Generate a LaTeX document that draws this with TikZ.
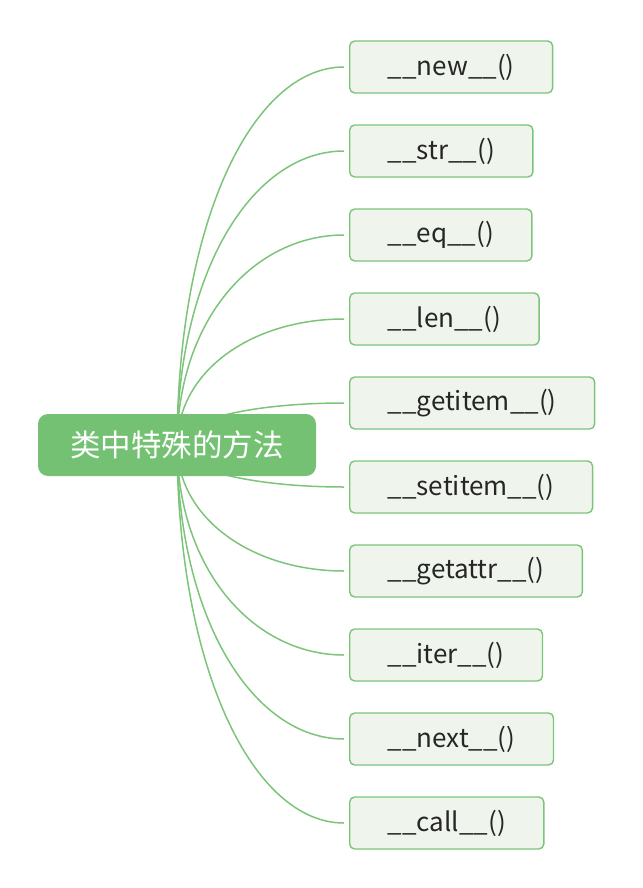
\documentclass[tikz,border=0pt]{standalone}
\usepackage{fontspec}
\setmainfont{Noto Sans CJK SC}
\usepackage{xcolor}
\usetikzlibrary{backgrounds}

\definecolor{mapgreen}{HTML}{74C174}
\definecolor{leafgreen}{HTML}{7CC47A}
\definecolor{leaffill}{HTML}{EFF5EC}
\definecolor{leaftext}{HTML}{262626}

\begin{document}
\begin{tikzpicture}[
  x=1pt, y=-1pt,
  rootbox/.style={
    fill=mapgreen,
    rounded corners=10pt,
    text=white,
    font=\fontsize{30.5}{33}\selectfont,
    minimum width=278pt,
    minimum height=62pt
  },
  leafbox/.style={
    draw=leafgreen,
    fill=leaffill,
    line width=1.4pt,
    rounded corners=5pt,
    text=leaftext,
    font=\fontsize{26}{29}\selectfont,
    inner xsep=38pt,
    minimum height=52pt,
    anchor=west
  },
  link/.style={draw=leafgreen, line width=1.5pt}
]
\useasboundingbox (0,0) rectangle (642,888);

% root
\node[rootbox] (root) at (177,445) {类中特殊的方法};

% leaves
\foreach \name/\txt/\y in {
    new/new/67, str/str/151, eq/eq/235, len/len/319,
    getitem/getitem/403, setitem/setitem/487, getattr/getattr/571,
    iter/iter/655, next/next/739, call/call/823} {
  \node[leafbox] (\name) at (349,\y) {\_\_\txt\_\_()};
  \begin{scope}[on background layer]
    \draw[link] (root.center) .. controls (178,{177.6+0.6*\y}) and (254,\y)
      .. ([xshift=-5pt]\name.west);
  \end{scope}
}

\end{tikzpicture}
\end{document}
